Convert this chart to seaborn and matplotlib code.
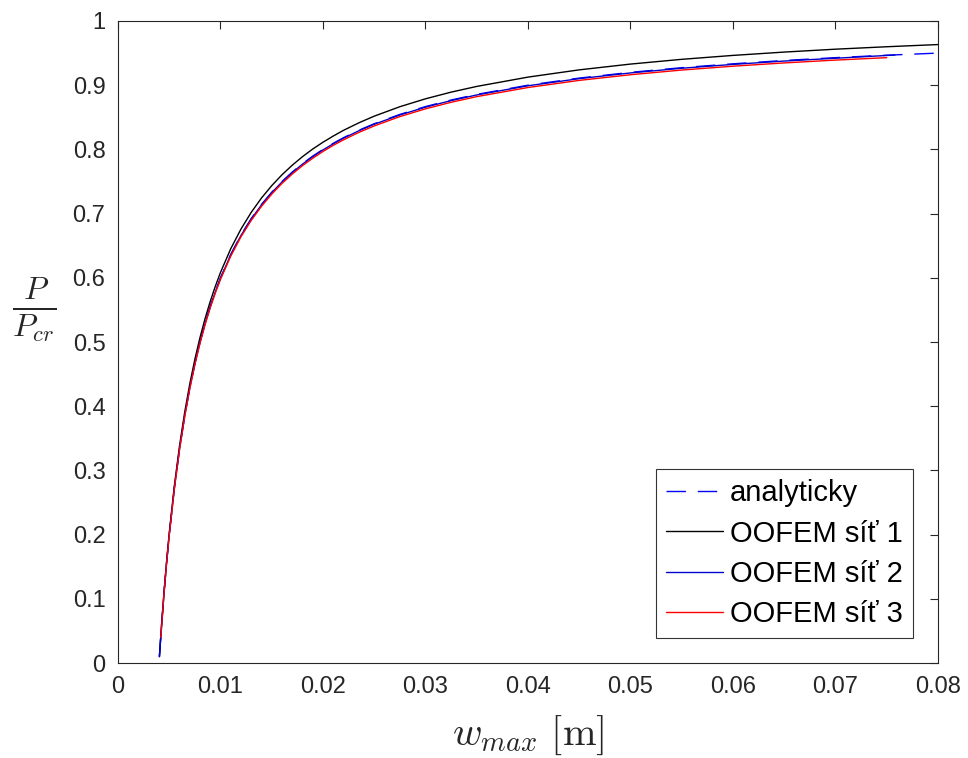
import matplotlib
matplotlib.use("Agg")
import matplotlib.pyplot as plt
import seaborn as sns

# values
w_analyticky = [0.00404, 0.00425, 0.0045, 0.00475, 0.005, 0.0055, 0.006, 0.0065, 0.007, 0.0075,
                0.008, 0.0085, 0.009, 0.0095, 0.010, 0.011, 0.012, 0.013, 0.014, 0.015,
                0.016, 0.017, 0.018, 0.019, 0.020, 0.021, 0.022, 0.0235, 0.025, 0.0275,
                0.030, 0.0325, 0.035, 0.040, 0.045, 0.050, 0.055, 0.060, 0.065, 0.070,
                0.075, 0.080]
p_analyticky = [0.010, 0.0588, 0.1111, 0.1579, 0.200, 0.2727, 0.3333, 0.3846, 0.4286, 0.4667,
                0.500, 0.5294, 0.5556, 0.5789, 0.600, 0.6364, 0.6667, 0.6923, 0.7143, 0.7333,
                0.750, 0.7647, 0.7778, 0.7895, 0.800, 0.8095, 0.8182, 0.8298, 0.840, 0.8545,
                0.8667, 0.8769, 0.8857, 0.900, 0.9111, 0.920, 0.9273, 0.9333, 0.9385, 0.9429,
                0.9467, 0.950]

w_sit1 = list(w_analyticky)
p_sit1 = [0.010, 0.0596, 0.1127, 0.1601, 0.2028, 0.2765, 0.3380, 0.3900, 0.4346, 0.4732,
          0.5070, 0.5368, 0.5633, 0.5870, 0.6084, 0.6453, 0.6760, 0.7020, 0.7243, 0.7436,
          0.7605, 0.7754, 0.7887, 0.8006, 0.8112, 0.8208, 0.8297, 0.8414, 0.8518, 0.8665,
          0.8788, 0.8892, 0.8981, 0.9126, 0.9239, 0.9329, 0.9403, 0.9464, 0.9516, 0.9561,
          0.9599, 0.9633]

w_sit2 = [0.00404, 0.00425, 0.0045, 0.00475, 0.005, 0.0055, 0.006, 0.0065, 0.007, 0.0075,
          0.008, 0.0085, 0.009, 0.0095, 0.010, 0.011, 0.012, 0.013, 0.014, 0.015,
          0.016, 0.017, 0.018, 0.019, 0.020, 0.021, 0.022, 0.0235, 0.025, 0.0275,
          0.030, 0.0325, 0.035, 0.040, 0.045, 0.050, 0.055, 0.060, 0.065, 0.070,
          0.0758]
p_sit2 = [0.0099, 0.0587, 0.1110, 0.1577, 0.1998, 0.2724, 0.3330, 0.3842, 0.4282, 0.4662,
          0.4995, 0.5289, 0.5550, 0.5783, 0.5994, 0.6358, 0.6660, 0.6916, 0.7136, 0.7326,
          0.7493, 0.7639, 0.7770, 0.7887, 0.7992, 0.8087, 0.8174, 0.8290, 0.8392, 0.8536,
          0.8658, 0.8760, 0.8848, 0.8991, 0.9102, 0.9191, 0.9264, 0.9324, 0.9376, 0.9420,
          0.9470]

w_sit3 = [0.00418, 0.0045, 0.00475, 0.005, 0.0055, 0.006, 0.0065, 0.007, 0.0075,
          0.008, 0.0085, 0.009, 0.0095, 0.010, 0.011, 0.012, 0.013, 0.014, 0.015,
          0.016, 0.017, 0.018, 0.019, 0.020, 0.021, 0.022, 0.0235, 0.025, 0.0275,
          0.030, 0.0325, 0.035, 0.040, 0.045, 0.050, 0.055, 0.060, 0.065, 0.070,
          0.075]
p_sit3 = [0.040, 0.1107, 0.1573, 0.1992, 0.2716, 0.3320, 0.3831, 0.4269, 0.4648,
          0.4980, 0.5273, 0.5534, 0.5766, 0.5976, 0.6338, 0.6640, 0.6895, 0.7114, 0.7304,
          0.7470, 0.7616, 0.7747, 0.7863, 0.7968, 0.8063, 0.8149, 0.8265, 0.8366, 0.8511,
          0.8632, 0.8734, 0.8822, 0.8964, 0.9075, 0.9163, 0.9236, 0.9296, 0.9347, 0.9391,
          0.9429]

x_ticks = [0, 0.01, 0.02, 0.03, 0.04, 0.05, 0.06, 0.07, 0.08]
x_tick_labels = ["0", "0.01", "0.02", "0.03", "0.04", "0.05", "0.06", "0.07", "0.08"]
y_ticks = [0, 0.1, 0.2, 0.3, 0.4, 0.5, 0.6, 0.7, 0.8, 0.9, 1]
y_tick_labels = ["0", "0.1", "0.2", "0.3", "0.4", "0.5", "0.6", "0.7", "0.8", "0.9", "1"]

sns.set_style("white")
plt.rcParams["font.family"] = ["Liberation Sans", "DejaVu Sans"]
plt.rcParams["mathtext.fontset"] = "cm"

axis_col = "#262626"
fig = plt.figure(figsize=(9.68, 7.58), dpi=100)
ax = fig.add_axes([0.1219, 0.1253, 0.969 - 0.1219, 0.9723 - 0.1253])

sns.lineplot(x=w_analyticky, y=p_analyticky, ax=ax, color="blue", lw=1.0,
             label="analyticky").lines[-1].set_dashes((14, 8.5))
sns.lineplot(x=w_sit1, y=p_sit1, ax=ax, color="black", lw=1.0, label="OOFEM síť 1")
sns.lineplot(x=w_sit2, y=p_sit2, ax=ax, color="#0000cc", lw=1.0, label="OOFEM síť 2")
sns.lineplot(x=w_sit3, y=p_sit3, ax=ax, color="red", lw=1.0, label="OOFEM síť 3")

ax.set_xlim(0, 0.08)
ax.set_ylim(0, 1)
ax.set_xticks(x_ticks)
ax.set_xticklabels(x_tick_labels)
ax.set_yticks(y_ticks)
ax.set_yticklabels(y_tick_labels)
ax.tick_params(direction="in", length=6, width=0.8, colors=axis_col, labelsize=17,
               top=True, right=True)
ax.tick_params(axis="x", pad=9.5)
ax.tick_params(axis="y", pad=9)
for s in ax.spines.values():
    s.set_color(axis_col)
    s.set_linewidth(0.8)

ax.set_xlabel(r"$w_{max}\ [\mathrm{m}]$", fontsize=29, color=axis_col, labelpad=11)
ax.set_ylabel(r"$\frac{P}{P_{cr}}$", fontsize=33, color=axis_col, rotation=0,
              ha="center", va="center")
ax.yaxis.set_label_coords(-0.102, 0.55)

leg = ax.legend(loc="lower right", fontsize=21, frameon=True, fancybox=False,
                handlelength=1.95, handletextpad=0.25, borderpad=0.35, labelspacing=0.42,
                borderaxespad=0.85, labelcolor="black")
leg.get_frame().set_edgecolor("black")
leg.get_frame().set_linewidth(0.8)

fig.savefig("out.png", dpi=100)
